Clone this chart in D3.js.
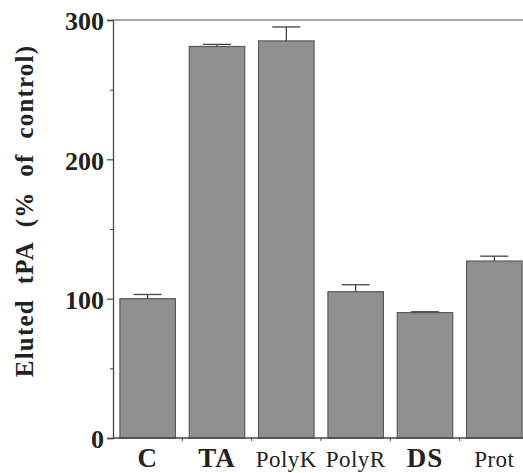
<!DOCTYPE html>
<html><head><meta charset="utf-8">
<script src="https://cdn.jsdelivr.net/npm/d3@7"></script>
<style>body{margin:0;background:#fff}</style>
</head><body>
<svg id="c" width="523" height="473"></svg>
<script>
const categories = ["C","TA","PolyK","PolyR","DS","Prot"];
const boldLabel = [true,true,false,false,true,false];
const values = [100, 281, 285, 105, 90, 127];
const errors = [3, 1.5, 10, 5, 0.6, 3.5];
const yTicks = [0,100,200,300];
const yMinor = [50,150,250];
const yTitle = "Eluted tPA (% of control)";

const svg = d3.select("#c");
const x = d3.scaleBand().domain(categories).range([113, 529]).paddingInner(0.2).paddingOuter(0.1);
const y = d3.scaleLinear().domain([0,300]).range([438, 20]);

// top frame line
svg.append("line").attr("x1",113).attr("x2",523).attr("y1",y(300)).attr("y2",y(300))
  .attr("stroke","#555").attr("stroke-width",1.2);

// bars
svg.selectAll("rect.bar").data(categories).join("rect")
  .attr("x", d=>x(d)).attr("width", x.bandwidth())
  .attr("y", (d,i)=>y(values[i])).attr("height",(d,i)=>y(0)-y(values[i]))
  .attr("fill","#909090").attr("stroke","#5a5a5a").attr("stroke-width",1.2);

// error bars
const cap = 14;
categories.forEach((c,i)=>{
  const cx = x(c)+x.bandwidth()/2;
  svg.append("line").attr("x1",cx).attr("x2",cx).attr("y1",y(values[i])).attr("y2",y(values[i]+errors[i]))
    .attr("stroke","#444").attr("stroke-width",1.3);
  svg.append("line").attr("x1",cx-cap).attr("x2",cx+cap).attr("y1",y(values[i]+errors[i])).attr("y2",y(values[i]+errors[i]))
    .attr("stroke","#444").attr("stroke-width",1.3);
});

// y axis
const ya = svg.append("g").attr("transform","translate(113,0)")
  .call(d3.axisLeft(y).tickValues(yTicks).tickSize(6).tickPadding(3).tickFormat(d3.format("d")));
ya.select(".domain").attr("stroke","#444").attr("stroke-width",1.3);
ya.selectAll(".tick line").attr("stroke","#444").attr("stroke-width",1.2);
ya.selectAll(".tick text").attr("font-family","'Liberation Serif', serif").attr("font-weight","bold")
  .attr("font-size",26).attr("fill","#222").attr("dy","0.38em");
svg.append("g").attr("transform","translate(113,0)")
  .call(d3.axisLeft(y).tickValues(yMinor).tickSize(3).tickFormat(""))
  .call(g=>{g.select(".domain").remove(); g.selectAll("line").attr("stroke","#444");});

// x axis
svg.append("line").attr("x1",113).attr("x2",523).attr("y1",y(0)).attr("y2",y(0))
  .attr("stroke","#444").attr("stroke-width",1.3);
const bounds = categories.slice(1).map(c=>x(c)-x.step()*x.paddingInner()/2);
svg.selectAll("line.xt").data(bounds).join("line")
  .attr("x1",d=>d).attr("x2",d=>d).attr("y1",y(0)).attr("y2",y(0)+3)
  .attr("stroke","#444");
svg.selectAll("text.xl").data(categories).join("text")
  .attr("x",d=>x(d)+x.bandwidth()/2).attr("y",467)
  .attr("text-anchor","middle")
  .attr("font-family","'Liberation Serif', serif")
  .attr("font-weight",(d,i)=>boldLabel[i]?"bold":"normal")
  .attr("font-size",(d,i)=>boldLabel[i]?27:23)
  .attr("letter-spacing",(d,i)=>boldLabel[i]?1:0.5)
  .attr("fill","#222")
  .text(d=>d);

// y title
svg.append("text").attr("transform","translate(33,211) rotate(-90)")
  .attr("text-anchor","middle").attr("font-family","'Liberation Serif', serif")
  .attr("font-weight","bold").attr("font-size",25).attr("fill","#222")
  .attr("letter-spacing",1.2)
  .attr("xml:space","preserve")
  .text(yTitle.replace(/ /g,"  "));
</script>
</body></html>
